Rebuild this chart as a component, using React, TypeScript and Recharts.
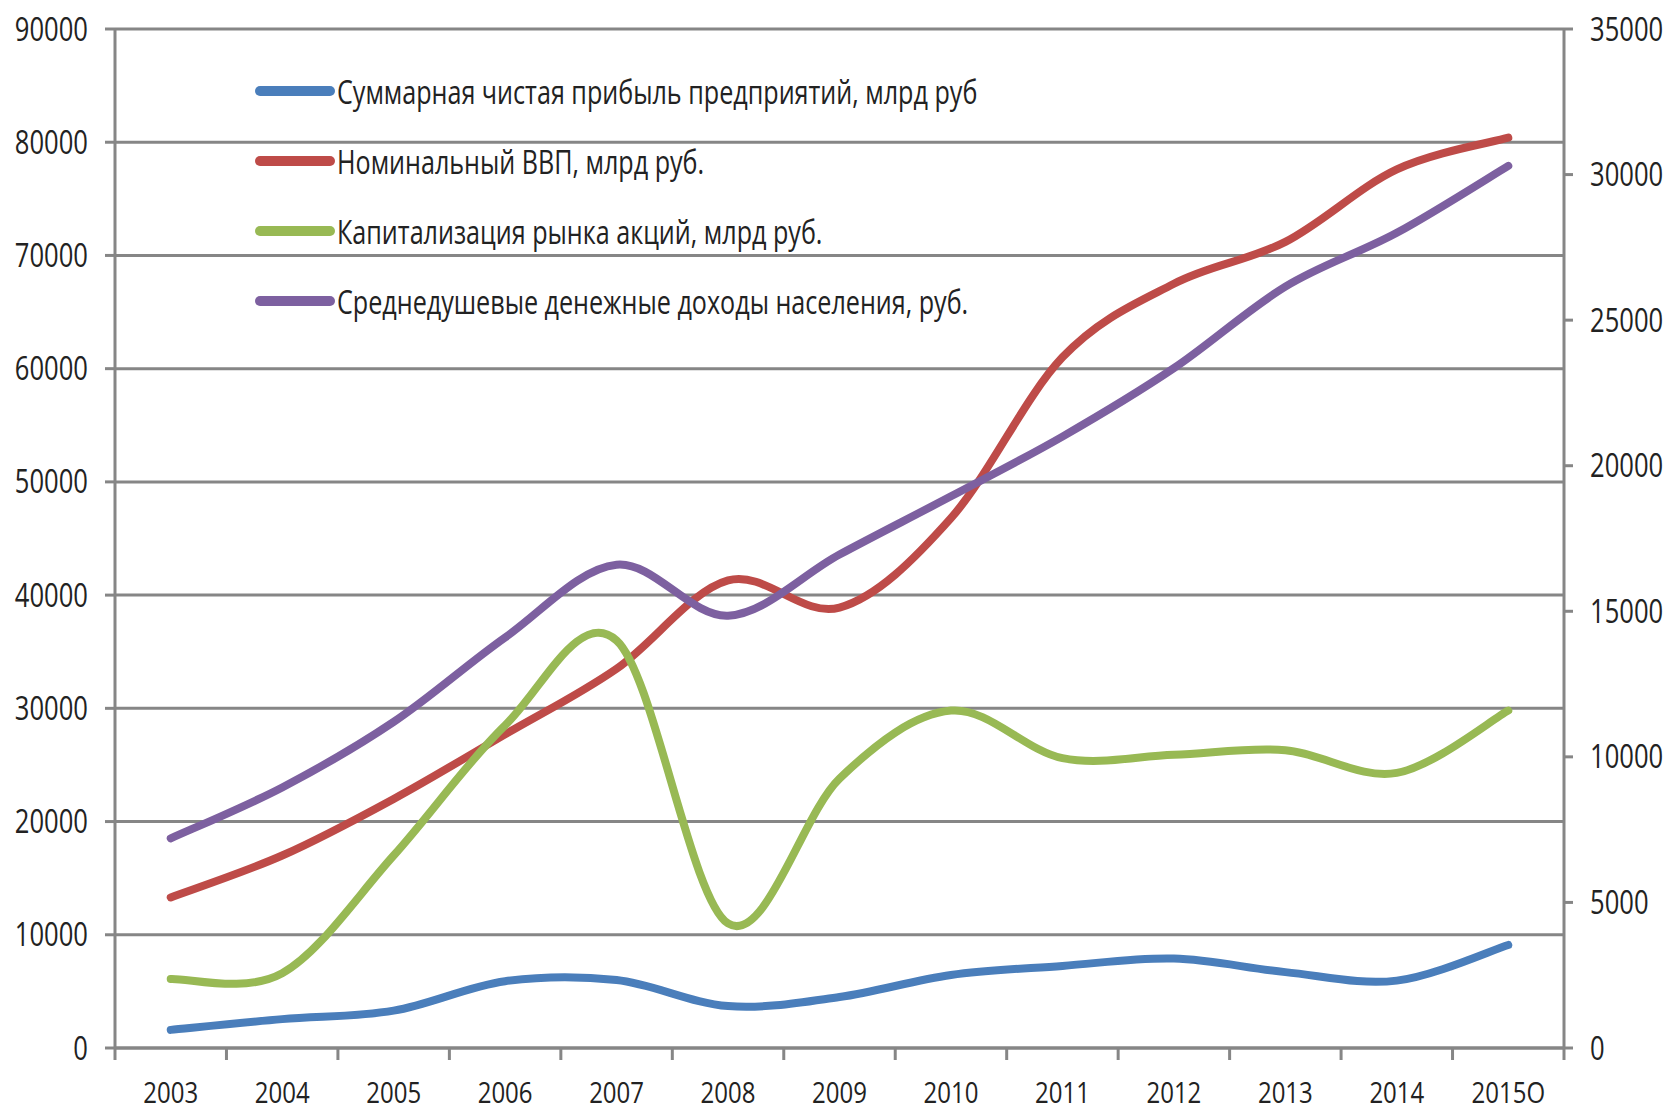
import React from 'react';
import { ComposedChart, Line, XAxis, YAxis, CartesianGrid, Legend } from 'recharts';

const years = ['2003', '2004', '2005', '2006', '2007', '2008', '2009', '2010', '2011', '2012', '2013', '2014', '2015O'];

// left axis, млрд руб
const profit = [1600, 2550, 3300, 5900, 6000, 3700, 4500, 6450, 7250, 7900, 6700, 5950, 9100];
const gdp = [13300, 17000, 22000, 27700, 33500, 41300, 38900, 46800, 61000, 67500, 71200, 77600, 80400];
const capitalization = [6100, 6600, 17000, 28500, 36000, 11000, 23800, 29800, 25600, 25900, 26300, 24300, 29800];
// right axis, руб
const income = [7200, 8950, 11200, 14100, 16600, 14850, 16950, 18950, 21000, 23350, 26150, 28000, 30300];

const leftTicks = [0, 10000, 20000, 30000, 40000, 50000, 60000, 70000, 80000, 90000];
const rightTicks = [0, 5000, 10000, 15000, 20000, 25000, 30000, 35000];

const seriesOrder = ['profit', 'gdp', 'cap', 'income'];

const data = years.map((year, i) => ({
  year,
  profit: profit[i],
  gdp: gdp[i],
  cap: capitalization[i],
  income: income[i],
}));

const FONT = "'Open Sans', 'Noto Sans', sans-serif";
const SQUEEZE = 0.8;
const AXIS = '#868686';
const TEXT = '#222';
const BAND = 1449 / 13;

// excel-like smoothing (catmull-rom)
function catmullRom(context: any) {
  let pts: number[][] = [];
  return {
    areaStart() {},
    areaEnd() {},
    lineStart() {
      pts = [];
    },
    point(x: number, y: number) {
      pts.push([+x, +y]);
    },
    lineEnd() {
      if (!pts.length) return;
      context.moveTo(pts[0][0], pts[0][1]);
      for (let i = 0; i < pts.length - 1; i++) {
        const p0 = pts[i - 1] || pts[i];
        const p1 = pts[i];
        const p2 = pts[i + 1];
        const p3 = pts[i + 2] || p2;
        context.bezierCurveTo(
          p1[0] + (p2[0] - p0[0]) / 6,
          p1[1] + (p2[1] - p0[1]) / 6,
          p2[0] - (p3[0] - p1[0]) / 6,
          p2[1] - (p3[1] - p1[1]) / 6,
          p2[0],
          p2[1]
        );
      }
    },
  };
}

function NarrowText({ x, y, anchor, size, children, dy }: any) {
  return (
    <text
      transform={`translate(${x},${y}) scale(${SQUEEZE},1)`}
      x={0}
      y={0}
      dy={dy}
      textAnchor={anchor}
      fontFamily={FONT}
      fontSize={size}
      fill={TEXT}
    >
      {children}
    </text>
  );
}

function YearTick(props: any) {
  const { x, y, payload, index } = props;
  const last = index === years.length - 1;
  return (
    <g>
      <line x1={x - BAND / 2} y1={y} x2={x - BAND / 2} y2={y + 12} stroke={AXIS} strokeWidth={3} />
      {last && <line x1={x + BAND / 2} y1={y} x2={x + BAND / 2} y2={y + 12} stroke={AXIS} strokeWidth={3} />}
      <NarrowText x={x} y={y + 55} anchor="middle" size={30}>
        {payload.value}
      </NarrowText>
    </g>
  );
}

function LeftTick(props: any) {
  const { x, y, payload } = props;
  return (
    <NarrowText x={x} y={y} dy="0.36em" anchor="end" size={32}>
      {payload.value}
    </NarrowText>
  );
}

function RightTick(props: any) {
  const { x, y, payload } = props;
  return (
    <NarrowText x={x} y={y} dy="0.36em" anchor="start" size={32}>
      {payload.value}
    </NarrowText>
  );
}

function LegendBox(props: any) {
  const items = [...(props.payload || [])].sort(
    (a: any, b: any) => seriesOrder.indexOf(a.dataKey) - seriesOrder.indexOf(b.dataKey)
  );
  return (
    <div style={{ fontFamily: FONT, fontSize: 32, color: TEXT }}>
      {items.map((e: any) => (
        <div key={e.dataKey} style={{ display: 'flex', alignItems: 'center', height: 70, whiteSpace: 'nowrap' }}>
          <svg width={80} height={12} style={{ display: 'block' }}>
            <line x1={5} y1={6} x2={75} y2={6} stroke={e.color} strokeWidth={10} strokeLinecap="round" />
          </svg>
          <span
            style={{
              display: 'inline-block',
              marginLeft: 2,
              transform: 'scaleX(0.785)',
              transformOrigin: 'left center',
            }}
          >
            {e.value}
          </span>
        </div>
      ))}
    </div>
  );
}

export default function App() {
  return (
    <div style={{ position: 'absolute', left: 0, top: 0, background: '#fff' }}>
      <ComposedChart width={1670} height={1113} data={data} margin={{ top: 29, right: 0, bottom: 0, left: 0 }}>
        <CartesianGrid yAxisId="left" horizontal vertical={false} stroke={AXIS} strokeWidth={3} />
        <XAxis
          dataKey="year"
          scale="band"
          interval={0}
          height={65}
          tickLine={false}
          tickSize={0}
          tickMargin={0}
          axisLine={{ stroke: AXIS, strokeWidth: 3 }}
          tick={<YearTick />}
        />
        <YAxis
          yAxisId="left"
          width={115}
          domain={[0, 90000]}
          ticks={leftTicks}
          interval={0}
          tickSize={10}
          tickMargin={17}
          tick={<LeftTick />}
          axisLine={{ stroke: AXIS, strokeWidth: 3 }}
          tickLine={{ stroke: AXIS, strokeWidth: 3 }}
        />
        <YAxis
          yAxisId="right"
          orientation="right"
          width={106}
          domain={[0, 35000]}
          ticks={rightTicks}
          interval={0}
          tickSize={9}
          tickMargin={17}
          tick={<RightTick />}
          axisLine={{ stroke: AXIS, strokeWidth: 3 }}
          tickLine={{ stroke: AXIS, strokeWidth: 3 }}
        />
        <Legend
          layout="vertical"
          align="center"
          verticalAlign="middle"
          content={<LegendBox />}
          wrapperStyle={{ left: 255, top: 56, width: 'auto', height: 'auto' }}
        />
        <Line yAxisId="left" dataKey="profit" name="Суммарная чистая прибыль предприятий, млрд руб" stroke="#4a7ebb" strokeWidth={8} strokeLinecap="round" dot={false} type={catmullRom as any} isAnimationActive={false} />
        <Line yAxisId="left" dataKey="gdp" name="Номинальный ВВП, млрд руб." stroke="#be4b48" strokeWidth={8} strokeLinecap="round" dot={false} type={catmullRom as any} isAnimationActive={false} />
        <Line yAxisId="left" dataKey="cap" name="Капитализация рынка акций, млрд руб." stroke="#98b954" strokeWidth={8} strokeLinecap="round" dot={false} type={catmullRom as any} isAnimationActive={false} />
        <Line yAxisId="right" dataKey="income" name="Среднедушевые денежные доходы населения, руб." stroke="#7d60a0" strokeWidth={8} strokeLinecap="round" dot={false} type={catmullRom as any} isAnimationActive={false} />
      </ComposedChart>
    </div>
  );
}
